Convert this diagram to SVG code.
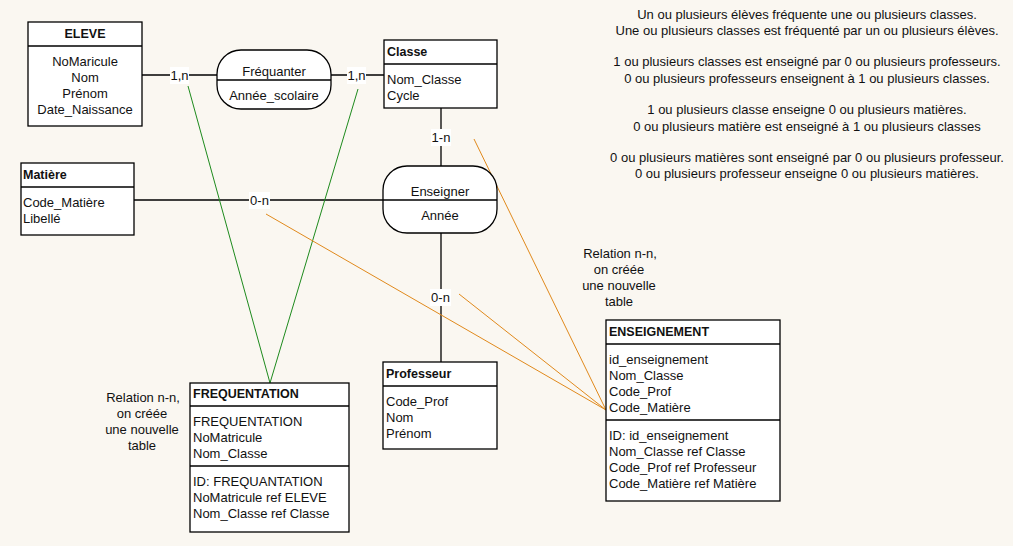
<svg xmlns="http://www.w3.org/2000/svg" width="1013" height="546" viewBox="0 0 1013 546">
<style>
text{font-family:"Liberation Sans",Arial,sans-serif;font-size:13px;fill:#111}
.b{font-weight:bold;font-size:12.5px}
.c{text-anchor:middle}
.box{fill:#fff;stroke:#000;stroke-width:1.3}
.div{stroke:#000;stroke-width:1.3}
.ln{stroke:#000;stroke-width:1.3;fill:none}
.g{stroke:#1d8a1d;stroke-width:1;fill:none}
.o{stroke:#e0891c;stroke-width:1;fill:none}
.lbg{fill:#fff}
</style>
<rect width="1013" height="546" fill="#faf7f1"/>
<g id="connectors">
<line class="ln" x1="142" y1="75" x2="217" y2="75"/>
<line class="ln" x1="331" y1="75" x2="384" y2="75"/>
<line class="ln" x1="441" y1="108" x2="441" y2="166"/>
<line class="ln" x1="134" y1="200" x2="383" y2="200"/>
<line class="ln" x1="441" y1="233" x2="441" y2="362"/>
<line class="g" x1="188" y1="86" x2="270" y2="383"/>
<line class="g" x1="358" y1="89" x2="270" y2="383"/>
<line class="o" x1="474" y1="139" x2="606" y2="410"/>
<line class="o" x1="266" y1="214" x2="606" y2="410"/>
<line class="o" x1="459" y1="294" x2="606" y2="410"/>
<rect class="lbg" x="170" y="67" width="19" height="17"/>
<text class="c" x="179.5" y="80">1,n</text>
<rect class="lbg" x="347" y="67" width="19" height="17"/>
<text class="c" x="356.5" y="80">1,n</text>
<rect class="lbg" x="431" y="129" width="20" height="17"/>
<text class="c" x="441" y="142">1-n</text>
<rect class="lbg" x="249" y="192" width="21" height="17"/>
<text class="c" x="259.5" y="205">0-n</text>
<rect class="lbg" x="430" y="289" width="21" height="17"/>
<text class="c" x="440.5" y="302">0-n</text>
</g>
<g id="eleve">
<rect class="box" x="28" y="22" width="114" height="104"/>
<line class="div" x1="28" y1="46" x2="142" y2="46"/>
<text class="c b" x="85" y="38">ELEVE</text>
<text class="c" x="85" y="66">NoMaricule</text>
<text class="c" x="85" y="82">Nom</text>
<text class="c" x="85" y="98">Prénom</text>
<text class="c" x="85" y="114">Date_Naissance</text>
</g>
<g id="frequanter">
<rect class="box" x="217" y="50" width="114" height="59" rx="24" ry="24"/>
<line class="div" x1="217" y1="80" x2="331" y2="80"/>
<text class="c" x="274" y="76">Fréquanter</text>
<text class="c" x="274" y="100">Année_scolaire</text>
</g>
<g id="classe">
<rect class="box" x="384" y="40" width="113" height="68"/>
<line class="div" x1="384" y1="64" x2="497" y2="64"/>
<text class="b" x="387" y="56">Classe</text>
<text x="387" y="84">Nom_Classe</text>
<text x="387" y="100">Cycle</text>
</g>
<g id="enseigner">
<rect class="box" x="383" y="166" width="114" height="67" rx="24" ry="24"/>
<line class="div" x1="383" y1="200" x2="497" y2="200"/>
<text class="c" x="440" y="196">Enseigner</text>
<text class="c" x="440" y="220">Année</text>
</g>
<g id="matiere">
<rect class="box" x="21" y="163" width="113" height="72"/>
<line class="div" x1="21" y1="187" x2="134" y2="187"/>
<text class="b" x="23" y="179">Matière</text>
<text x="23" y="207">Code_Matière</text>
<text x="23" y="223">Libellé</text>
</g>
<g id="professeur">
<rect class="box" x="383" y="362" width="114" height="87"/>
<line class="div" x1="383" y1="386" x2="497" y2="386"/>
<text class="b" x="386" y="378">Professeur</text>
<text x="386" y="406">Code_Prof</text>
<text x="386" y="422">Nom</text>
<text x="386" y="438">Prénom</text>
</g>
<g id="frequentation">
<rect class="box" x="190" y="383" width="159" height="149"/>
<line class="div" x1="190" y1="406" x2="349" y2="406"/>
<line class="div" x1="190" y1="466" x2="349" y2="466"/>
<text class="b" x="193" y="398">FREQUENTATION</text>
<text x="193" y="426">FREQUENTATION</text>
<text x="193" y="442">NoMatricule</text>
<text x="193" y="458">Nom_Classe</text>
<text x="193" y="486">ID: FREQUANTATION</text>
<text x="193" y="502">NoMatricule ref ELEVE</text>
<text x="193" y="518">Nom_Classe ref Classe</text>
</g>
<g id="enseignement">
<rect class="box" x="606" y="320" width="174" height="181"/>
<line class="div" x1="606" y1="344" x2="780" y2="344"/>
<line class="div" x1="606" y1="420" x2="780" y2="420"/>
<text class="b" x="609" y="336">ENSEIGNEMENT</text>
<text x="609" y="364">id_enseignement</text>
<text x="609" y="380">Nom_Classe</text>
<text x="609" y="396">Code_Prof</text>
<text x="609" y="412">Code_Matière</text>
<text x="609" y="440">ID: id_enseignement</text>
<text x="609" y="456">Nom_Classe ref Classe</text>
<text x="609" y="472">Code_Prof ref Professeur</text>
<text x="609" y="488">Code_Matière ref Matière</text>
</g>
<g id="note-frequentation">
<text class="c" x="143" y="402">Relation n-n,</text>
<text class="c" x="142" y="418">on créée</text>
<text class="c" x="142" y="434">une nouvelle</text>
<text class="c" x="142" y="450">table</text>
</g>
<g id="note-enseignement">
<text class="c" x="620" y="258">Relation n-n,</text>
<text class="c" x="619" y="274">on créée</text>
<text class="c" x="619" y="290">une nouvelle</text>
<text class="c" x="619" y="306">table</text>
</g>
<g id="notes">
<text class="c" x="807" y="19">Un ou plusieurs élèves fréquente une ou plusieurs classes.</text>
<text class="c" x="807" y="35">Une ou plusieurs classes est fréquenté par un ou plusieurs élèves.</text>
<text class="c" x="807" y="66">1 ou plusieurs classes est enseigné par 0 ou plusieurs professeurs.</text>
<text class="c" x="807" y="83">0 ou plusieurs professeurs enseignent à 1 ou plusieurs classes.</text>
<text class="c" x="807" y="114">1 ou plusieurs classe enseigne 0 ou plusieurs matières.</text>
<text class="c" x="807" y="131">0 ou plusieurs matière est enseigné à 1 ou plusieurs classes</text>
<text class="c" x="807" y="162">0 ou plusieurs matières sont enseigné par 0 ou plusieurs professeur.</text>
<text class="c" x="807" y="178">0 ou plusieurs professeur enseigne 0 ou plusieurs matières.</text>
</g>
</svg>
